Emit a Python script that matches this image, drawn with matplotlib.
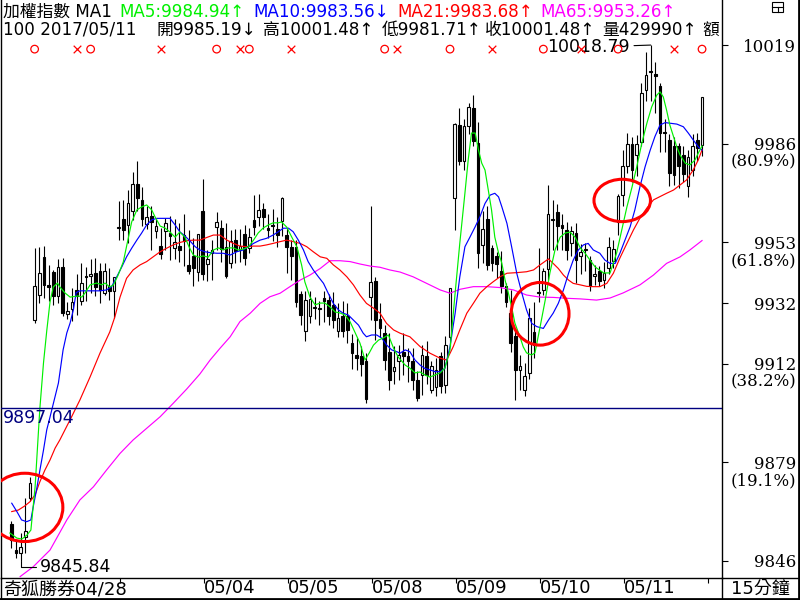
import matplotlib.pyplot as plt
from matplotlib.patches import Ellipse, Rectangle
from matplotlib.lines import Line2D

plt.rcParams["font.family"] = ["DejaVu Sans", "Noto Sans CJK TC"]

# 15-minute bars, 04/28 (last bars) .. 05/11
opens = [9858.4, 9849.6, 9848.6, 9854.0, 9867.0, 9926.5, 9934.9, 9947.6, 9938.5, 9942.7,
         9934.6, 9944.5, 9928.6, 9930.3, 9936.8, 9932.9, 9941.3, 9941.5, 9942.4, 9942.9,
         9935.6, 9938.1, 9936.2, 9957.4, 9960.6, 9958.6, 9963.3, 9972.3, 9967.0, 9958.8,
         9961.4, 9956.3, 9951.3, 9956.3, 9955.8, 9950.8, 9951.3, 9955.2, 9945.0, 9948.0,
         9942.6, 9963.0, 9945.5, 9949.0, 9957.8, 9957.5, 9951.1, 9945.7, 9953.5, 9950.0,
         9955.5, 9950.8, 9960.0, 9961.2, 9964.0, 9957.5, 9958.3, 9957.2, 9959.7, 9955.2,
         9951.0, 9951.0, 9935.5, 9922.8, 9927.8, 9930.6, 9930.4, 9934.0, 9933.4, 9931.7,
         9922.8, 9928.0, 9927.8, 9918.8, 9915.0, 9914.4, 9913.0, 9934.3, 9939.8, 9927.0,
         9922.3, 9916.0, 9909.4, 9912.8, 9915.9, 9914.4, 9912.8, 9906.4, 9908.3, 9914.5,
         9903.2, 9904.0, 9914.4, 9904.9, 9921.0, 9967.5, 9992.0, 9980.0, 9991.8, 9997.7,
         9986.0, 9951.9, 9960.5, 9950.7, 9948.0, 9943.2, 9937.9, 9929.0, 9921.1, 9909.7,
         9903.3, 9908.8, 9922.5, 9935.9, 9936.7, 9943.7, 9960.4, 9962.7, 9958.6, 9956.8,
         9952.3, 9955.7, 9948.2, 9950.0, 9946.8, 9941.5, 9943.0, 9940.0, 9944.0, 9946.3,
         9959.4, 9968.6, 9978.1, 9985.7, 9982.0, 9986.4, 10003.8, 10010.0, 10009.0, 10005.0,
         9989.5, 9987.0, 9984.8, 9984.8, 9982.0, 9971.4, 9977.0, 9987.0, 9985.19]
highs = [9859.4, 9853.0, 9855.3, 9867.0, 9874.0, 9950.6, 9951.0, 9951.3, 9945.0, 9943.5,
         9947.0, 9947.5, 9932.8, 9937.5, 9942.2, 9945.8, 9944.5, 9947.2, 9947.4, 9945.8,
         9945.8, 9944.2, 9941.2, 9966.4, 9966.7, 9970.3, 9976.4, 9980.0, 9971.2, 9965.0,
         9964.7, 9960.6, 9957.6, 9960.8, 9961.4, 9960.6, 9959.0, 9962.0, 9956.8, 9954.0,
         9955.5, 9973.9, 9950.2, 9953.5, 9962.7, 9960.2, 9959.2, 9956.8, 9957.0, 9957.0,
         9958.6, 9957.5, 9968.6, 9968.9, 9965.9, 9962.0, 9964.0, 9961.0, 9967.9, 9957.5,
         9953.5, 9953.5, 9936.2, 9936.2, 9936.2, 9934.5, 9933.0, 9936.2, 9935.4, 9936.0,
         9932.3, 9933.0, 9932.3, 9922.0, 9920.5, 9917.8, 9915.6, 9964.9, 9941.0, 9932.3,
         9925.0, 9922.3, 9917.8, 9918.3, 9922.3, 9917.3, 9917.3, 9909.4, 9918.3, 9919.5,
         9912.8, 9914.0, 9916.0, 9921.3, 9937.5, 9992.5, 9997.7, 9994.0, 9999.3, 10002.2,
         9993.0, 9963.0, 9964.7, 9951.9, 9949.3, 9949.6, 9939.0, 9936.8, 9922.8, 9915.0,
         9912.2, 9930.6, 9932.8, 9950.7, 9944.0, 9972.0, 9967.0, 9965.6, 9962.2, 9959.6,
         9958.0, 9959.0, 9952.0, 9952.5, 9948.0, 9945.0, 9944.6, 9946.0, 9954.5, 9953.5,
         9969.0, 9983.7, 9989.4, 9988.0, 9988.6, 10006.0, 10016.3, 10018.79, 10013.0, 10006.0,
         9994.0, 9989.0, 9988.0, 9986.0, 9985.0, 9983.7, 9989.0, 9989.4, 10001.48]
lows = [9850.3, 9847.0, 9845.84, 9848.6, 9866.0, 9925.5, 9932.4, 9934.0, 9932.9, 9931.8,
        9932.4, 9928.0, 9927.0, 9926.2, 9928.4, 9931.8, 9932.9, 9935.8, 9934.6, 9932.4,
        9935.0, 9933.4, 9927.4, 9953.5, 9953.5, 9952.5, 9960.0, 9963.0, 9958.0, 9957.0,
        9950.2, 9954.0, 9947.0, 9950.2, 9946.8, 9947.0, 9946.0, 9944.8, 9942.0, 9938.0,
        9939.6, 9940.0, 9939.6, 9940.0, 9950.2, 9946.0, 9940.7, 9944.0, 9945.7, 9946.0,
        9945.0, 9949.0, 9955.2, 9958.0, 9957.0, 9954.0, 9953.0, 9951.0, 9954.7, 9942.4,
        9940.0, 9931.0, 9925.0, 9919.7, 9925.6, 9927.0, 9925.0, 9926.0, 9925.0, 9924.0,
        9921.0, 9921.0, 9919.0, 9910.2, 9910.0, 9908.0, 9898.8, 9926.7, 9920.0, 9921.0,
        9910.0, 9903.2, 9905.0, 9906.6, 9908.3, 9906.0, 9903.2, 9899.5, 9901.6, 9905.0,
        9902.0, 9901.0, 9902.0, 9902.0, 9918.0, 9956.8, 9978.7, 9977.0, 9989.0, 9985.0,
        9944.0, 9945.7, 9943.4, 9943.0, 9940.6, 9935.6, 9931.0, 9916.0, 9899.9, 9903.2,
        9901.0, 9907.0, 9914.0, 9932.8, 9935.0, 9940.0, 9950.0, 9950.0, 9950.0, 9946.8,
        9948.0, 9939.0, 9942.0, 9943.0, 9936.2, 9938.5, 9937.9, 9937.5, 9942.0, 9944.0,
        9955.0, 9964.7, 9976.0, 9973.0, 9975.0, 9985.0, 10000.0, 10000.0, 9996.0, 9983.0,
        9983.0, 9971.4, 9972.0, 9970.8, 9973.0, 9968.0, 9975.0, 9980.0, 9981.71]
closes = [9853.0, 9848.6, 9850.6, 9856.0, 9872.0, 9938.0, 9942.5, 9938.2, 9937.8, 9934.6,
          9944.5, 9929.0, 9929.8, 9932.7, 9934.6, 9939.1, 9941.0, 9942.1, 9937.7, 9936.8,
          9942.9, 9936.2, 9941.2, 9957.6, 9956.9, 9965.9, 9972.3, 9967.6, 9960.5, 9961.0,
          9959.4, 9958.3, 9948.9, 9959.2, 9954.9, 9952.7, 9950.2, 9953.0, 9943.0, 9944.0,
          9955.5, 9942.0, 9947.0, 9950.0, 9959.5, 9950.5, 9941.5, 9953.0, 9949.6, 9951.5,
          9947.4, 9954.3, 9957.8, 9963.6, 9961.2, 9956.7, 9958.2, 9955.2, 9967.5, 9951.1,
          9948.0, 9932.8, 9928.4, 9933.4, 9933.6, 9930.9, 9930.2, 9933.0, 9927.8, 9926.7,
          9927.3, 9923.1, 9923.3, 9915.5, 9914.0, 9912.0, 9900.0, 9939.4, 9926.7, 9924.0,
          9913.3, 9906.6, 9910.8, 9915.0, 9914.7, 9912.8, 9906.4, 9900.5, 9915.0, 9908.3,
          9911.3, 9910.0, 9904.6, 9918.3, 9937.3, 9992.2, 9979.8, 9991.8, 9998.0, 9986.5,
          9949.0, 9957.1, 9945.1, 9945.7, 9945.5, 9937.9, 9932.8, 9918.9, 9909.9, 9911.3,
          9908.0, 9927.3, 9918.4, 9935.7, 9943.2, 9962.2, 9960.2, 9958.0, 9957.5, 9950.2,
          9956.3, 9946.8, 9949.3, 9950.2, 9938.1, 9942.0, 9939.7, 9942.5, 9951.1, 9950.5,
          9968.3, 9978.1, 9985.7, 9977.0, 9985.7, 10002.8, 10008.9, 10009.6, 10008.5, 9989.4,
          9989.3, 9975.9, 9975.3, 9978.1, 9975.5, 9981.4, 9984.8, 9984.3, 10001.48]

# moving averages (bar position, value)
ma5_x = [-0.3, 1.2, 2.3, 3.4, 4.2, 5.1, 6.1, 6.9, 7.6, 8.3, 9, 9.9, 10.4, 11.5, 12.6, 14.4, 15.1, 15.8,
         16.9, 18.3, 19.4, 20.1, 21.1, 21.9, 22.9, 24, 25.1, 25.8, 26.9, 27.9, 29, 30.1, 30.8, 31.9,
         32.9, 34, 35.1, 36.1, 37.2, 38.1, 39, 40.1, 41.1, 42.2, 43.3, 44.4, 45.4, 46.5, 47.6, 48.6,
         49.7, 50.8, 51.9, 52.9, 54, 55.1, 56.1, 57.2, 57.9, 59, 60.1, 61.2, 62.2, 62.9, 64, 65.1,
         66.2, 67.2, 68.3, 69.4, 70.4, 71.5, 72.6, 73.6, 74.7, 75.8, 76.7, 77.6, 78.7, 79.7, 80.8,
         81.9, 82.9, 84.4, 85.4, 86.5, 87.6, 88.6, 89.7, 90.8, 91.9, 92.9, 94, 95.1, 96.1, 97.2,
         97.9, 98.6, 99.4, 100.1, 100.8, 101.5, 102.2, 102.9, 103.6, 104.4, 105.1, 105.8, 106.5,
         107.2, 107.9, 109, 109.7, 110.4, 111.5, 112.2, 113.3, 114.4, 115.4, 116.5, 117.6, 118.7,
         119.7, 120.8, 121.9, 122.9, 124, 125.1, 126, 126.9, 128.3, 129.7, 130.8, 131.9, 133, 134,
         135.1, 136.2, 137.2, 138.3, 139, 139.7, 140.4, 141.1, 141.9, 142.6, 143.3, 144.4, 145.4,
         146.5, 147.2, 148]
ma5_y = [9855.2, 9853.5, 9853.2, 9854.6, 9856.2, 9870.6, 9896.5, 9912.2, 9923.0, 9932.7, 9937.7,
         9939.0, 9937.7, 9935.7, 9934.3, 9934.7, 9934.3, 9935.7, 9938.4, 9939.0, 9938.4, 9939.0,
         9937.7, 9938.4, 9941.7, 9946.1, 9954.4, 9959.5, 9963.5, 9964.5, 9965.2, 9963.5, 9961.2,
         9958.1, 9957.5, 9956.1, 9954.4, 9956.1, 9954.4, 9951.1, 9948.4, 9947.7, 9948.1, 9947.7,
         9950.1, 9950.8, 9950.1, 9950.8, 9950.8, 9950.1, 9950.4, 9951.1, 9953.4, 9955.8, 9957.5,
         9958.5, 9959.2, 9959.2, 9959.5, 9957.8, 9954.4, 9951.1, 9945.1, 9939.4, 9934.3, 9931.7,
         9932.3, 9932.3, 9931.0, 9929.3, 9929.0, 9928.3, 9926.0, 9922.6, 9918.9, 9913.2, 9915.6,
         9918.2, 9919.9, 9920.6, 9921.6, 9917.2, 9914.2, 9911.5, 9910.5, 9908.9, 9909.2, 9908.2,
         9907.5, 9908.2, 9908.9, 9910.5, 9916.6, 9935.7, 9952.4, 9969.2, 9980.3, 9989.3, 9989.3,
         9983.6, 9979.2, 9976.9, 9970.2, 9963.5, 9954.4, 9949.1, 9945.7, 9940.0, 9935.7, 9931.0,
         9925.6, 9920.9, 9917.6, 9915.6, 9914.9, 9915.6, 9924.3, 9933.3, 9942.4, 9950.1, 9954.4,
         9955.8, 9956.1, 9954.4, 9950.8, 9949.1, 9946.7, 9944.4, 9943.4, 9942.4, 9942.4, 9949.1,
         9956.8, 9964.5, 9971.2, 9977.9, 9985.9, 9992.7, 9998.0, 10002.0, 10003.1, 10001.4, 9997.0,
         9992.0, 9988.0, 9984.6, 9981.9, 9979.2, 9978.6, 9980.3, 9982.6, 9984.94]

ma10_x = [0.1, 1.2, 2.2, 3.3, 4.2, 4.7, 5.4, 6.1, 6.9, 7.6, 8.3, 10.1, 11.1, 11.9, 12.6, 13.3, 13.9,
          14.7, 16.2, 17.6, 19.0, 20.4, 21.5, 22.6, 23.7, 24.7, 25.8, 26.9, 27.9, 29.0, 30.1, 31.2,
          32.6, 34.0, 35.1, 36.1, 37.2, 38.3, 39.4, 40.4, 41.5, 42.6, 44.0, 45.4, 46.9, 48.3, 49.7,
          50.8, 51.9, 53.3, 54.7, 56.1, 57.2, 58.3, 59.4, 60.4, 61.5, 62.6, 63.6, 64.7, 65.8, 66.9,
          67.9, 69.0, 70.1, 71.1, 72.2, 73.3, 74.4, 75.4, 76.1, 77.2, 78.3, 79.4, 80.4, 81.5, 82.6,
          83.3, 84.4, 85.4, 86.5, 87.6, 88.6, 89.7, 90.8, 91.9, 92.9, 94.0, 95.1, 96.1, 97.2, 98.3,
          99.4, 100.4, 101.5, 102.6, 103.6, 104.4, 105.1, 106.2, 107.2, 108.3, 109.4, 110.4, 111.5,
          112.6, 114.0, 115.1, 116.1, 117.2, 118.3, 119.4, 120.4, 121.5, 122.6, 123.6, 124.7, 126.1,
          127.2, 128.3, 129.4, 130.4, 131.5, 132.6, 133.6, 134.7, 135.8, 136.9, 137.9, 139.0, 140.1,
          141.1, 142.6, 144.0, 145.1, 146.1, 147.2, 148]
ma10_y = [9865.2, 9862.4, 9859.6, 9859.0, 9859.6, 9864.0, 9869.6, 9876.0, 9883.0, 9889.8, 9894.1,
          9905.5, 9916.6, 9922.3, 9925.6, 9930.0, 9935.8, 9936.4, 9936.4, 9936.4, 9936.4, 9936.7,
          9937.8, 9941.1, 9944.5, 9947.8, 9950.7, 9953.4, 9955.7, 9958.5, 9960.2, 9960.7, 9960.7,
          9960.7, 9958.5, 9956.2, 9954.8, 9953.1, 9951.2, 9950.1, 9949.5, 9949.2, 9949.0, 9949.0,
          9948.4, 9949.5, 9950.1, 9951.2, 9952.3, 9953.4, 9954.0, 9955.1, 9956.2, 9957.4, 9957.4,
          9956.2, 9953.4, 9950.1, 9946.2, 9943.4, 9941.1, 9938.9, 9935.6, 9932.2, 9930.0, 9928.9,
          9928.3, 9926.6, 9924.9, 9922.2, 9921.0, 9921.6, 9921.6, 9920.5, 9918.3, 9916.6, 9916.0,
          9915.5, 9916.6, 9916.0, 9913.2, 9911.5, 9910.4, 9909.9, 9909.3, 9909.3, 9910.4, 9917.7,
          9928.9, 9941.1, 9951.2, 9954.5, 9957.9, 9961.2, 9965.7, 9968.5, 9969.1, 9967.9, 9964.6,
          9959.0, 9951.2, 9942.3, 9935.6, 9930.0, 9925.5, 9924.4, 9923.8, 9926.6, 9928.9, 9932.2,
          9936.7, 9942.3, 9946.7, 9950.1, 9951.8, 9952.3, 9950.1, 9949.0, 9946.7, 9945.6, 9945.6,
          9949.0, 9953.4, 9957.9, 9963.5, 9971.3, 9978.0, 9983.6, 9988.1, 9992.0, 9992.8, 9992.6,
          9992.3, 9991.4, 9989.2, 9987.0, 9984.7, 9983.56]

ma21_x = [0.1, 1.5, 2.9, 4.0, 5.1, 6.1, 7.2, 8.3, 9.4, 10.4, 12.9, 14.7, 16.9, 19.0, 21.1, 22.2, 23.3,
          24.7, 26.1, 27.6, 29.0, 30.4, 31.9, 33.3, 34.7, 36.1, 37.6, 39.0, 40.4, 41.9, 43.3, 44.7,
          46.2, 47.6, 49.0, 50.4, 51.9, 53.3, 54.7, 56.1, 57.6, 59.0, 60.4, 61.9, 63.3, 64.7, 66.2,
          67.6, 69.0, 70.4, 71.9, 73.3, 74.7, 76.1, 77.6, 79.0, 80.4, 81.9, 83.3, 85.4, 87.6, 89.7,
          91.9, 93.3, 94.7, 96.1, 97.6, 99.0, 100.4, 101.9, 103.3, 104.7, 106.2, 108.3, 110.4, 111.9,
          113.3, 115.1, 116.1, 117.2, 118.3, 119.4, 120.4, 121.9, 123.3, 124.7, 126.1, 127.6, 129.0,
          130.4, 131.9, 133.3, 134.7, 136.2, 137.6, 139.0, 140.4, 141.9, 143.3, 144.7, 146.1, 147.2,
          148]
ma21_y = [9862.4, 9862.9, 9864.3, 9865.7, 9868.0, 9872.3, 9876.3, 9879.7, 9883.7, 9886.4, 9894.1,
          9899.8, 9907.6, 9915.5, 9922.6, 9927.7, 9934.3, 9940.6, 9943.4, 9945.1, 9946.2, 9947.8,
          9949.5, 9950.7, 9951.8, 9952.6, 9953.2, 9953.4, 9953.4, 9954.3, 9955.1, 9955.1, 9953.4,
          9952.3, 9951.4, 9951.2, 9951.4, 9951.4, 9951.8, 9952.3, 9952.9, 9953.4, 9952.9, 9952.3,
          9951.2, 9949.5, 9947.8, 9947.3, 9945.1, 9943.4, 9941.1, 9938.4, 9935.0, 9932.2, 9930.6,
          9928.9, 9925.5, 9923.3, 9922.2, 9921.0, 9917.7, 9915.5, 9913.8, 9913.2, 9917.7, 9923.3,
          9928.9, 9932.2, 9935.6, 9937.8, 9939.5, 9941.1, 9942.3, 9942.5, 9942.8, 9943.4, 9945.1,
          9947.1, 9945.6, 9943.9, 9941.7, 9940.0, 9938.9, 9938.4, 9937.9, 9937.8, 9937.8, 9938.9,
          9942.3, 9947.4, 9952.3, 9956.8, 9960.8, 9964.2, 9966.9, 9968.0, 9969.1, 9970.2, 9971.9,
          9973.6, 9976.9, 9980.3, 9983.68]

ma65_x = [1.9, 4.7, 8.3, 11.9, 14.7, 17.6, 20.4, 23.3, 26.1, 29.0, 31.9, 34.7, 37.6, 40.4, 42.6,
          44.7, 46.9, 49.0, 51.2, 53.3, 55.4, 57.6, 59.7, 61.9, 64.0, 66.2, 68.3, 70.4, 72.6, 74.7,
          76.9, 79.0, 81.1, 83.3, 86.1, 89.0, 91.9, 94.0, 96.1, 99.0, 101.9, 104.7, 107.6, 110.4,
          113.3, 116.1, 119.0, 121.9, 125.4, 128.3, 131.1, 134.7, 137.6, 140.4, 143.3, 145.4, 148]
ma65_y = [9840.6, 9843.9, 9849.5, 9859.6, 9866.3, 9870.7, 9876.3, 9881.9, 9886.4, 9890.3, 9894.2,
          9898.7, 9903.5, 9908.5, 9913.2, 9917.1, 9921.0, 9926.1, 9928.9, 9932.2, 9934.4, 9935.6,
          9937.8, 9940.0, 9941.7, 9943.9, 9946.5, 9946.5, 9946.2, 9945.4, 9944.7, 9944.3, 9943.4,
          9942.7, 9941.1, 9938.9, 9936.7, 9935.6, 9936.9, 9937.8, 9937.8, 9937.5, 9936.7, 9935.0,
          9934.3, 9934.2, 9933.9, 9933.7, 9933.3, 9934.0, 9935.7, 9938.4, 9941.7, 9945.6, 9947.8,
          9950.1, 9953.26]

# signals (bar index, kind)
sig_o = [5, 17, 44, 51, 80, 94, 114, 130, 148]
sig_x = [14, 32, 49, 60, 82.6, 103, 122, 142]

# highlighted zones: (bar, price, width in bars, height in points)
circles = [(2.9, 9863.8, 16.3, 22.9), (113.3, 9928.7, 12.4, 21.0), (130.9, 9966.7, 12.1, 14.2)]

ref_level = 9897.04
hi_bar, lo_bar = 137, 2

price_ticks = [10018.79, 9985.76, 9952.72, 9932.32, 9911.91, 9878.87, 9845.84]
price_labels = ["10019", "9986", "9953", "9932", "9912", "9879", "9846"]
pct_labels = ["", "(80.9%)", "(61.8%)", "", "(38.2%)", "(19.1%)", ""]

day_start = [23, 41, 59, 77, 95, 113, 131, 149]
day_labels = ["", "05/04", "05/05", "05/08", "05/09", "05/10", "05/11", ""]
first_date = "04/28"

fig = plt.figure(figsize=(8, 6), dpi=100)
ax = fig.add_axes([0.5 / 800, 22 / 600, 721 / 800, 578 / 600])

idx = list(range(len(closes)))
ax.vlines(idx, lows, highs, color="black", lw=0.8, zorder=2)
bottoms = [min(o, c) for o, c in zip(opens, closes)]
heights = [max(abs(c - o), 0.35) for o, c in zip(opens, closes)]
fills = ["white" if c >= o else "black" for o, c in zip(opens, closes)]
ax.bar(idx, heights, bottom=bottoms, width=0.62, color=fills, edgecolor="black",
       linewidth=0.8, zorder=2)

ax.plot(ma65_x, ma65_y, color="#ff00ff", lw=0.85, zorder=3)
ax.plot(ma21_x, ma21_y, color="#ff0000", lw=0.85, zorder=3)
ax.plot(ma10_x, ma10_y, color="#0000ff", lw=0.85, zorder=3)
ax.plot(ma5_x, ma5_y, color="#00f000", lw=0.85, zorder=3)

ax.axhline(ref_level, color="#000080", lw=1.0, zorder=3)
ax.annotate(f"{ref_level:.2f}", xy=(0, ref_level), xycoords=("axes fraction", "data"),
            xytext=(1.5, -7.3), textcoords="offset points", ha="left", va="center",
            color="#000080", fontsize=12.5)

for cx, cy, w, h in circles:
    ax.add_patch(Ellipse((cx, cy), w, h, fill=False, edgecolor="#ff0000", lw=2.2, zorder=4))

trans = ax.get_xaxis_transform()
ax.scatter(sig_o, [0.915] * len(sig_o), transform=trans, marker="o", s=30,
           facecolors="none", edgecolors="#ff0000", linewidths=0.9, zorder=5, clip_on=False)
ax.scatter(sig_x, [0.915] * len(sig_x), transform=trans, marker="x", s=30,
           color="#ff0000", linewidths=0.9, zorder=5, clip_on=False)

ax.annotate(f"{highs[hi_bar]:.2f}", xy=(hi_bar, highs[hi_bar]), xytext=(-15, -1.5),
            textcoords="offset points", ha="right", va="center", fontsize=12.5,
            arrowprops=dict(arrowstyle="-", lw=0.8, color="black", shrinkA=1, shrinkB=0))
ax.annotate(f"{lows[lo_bar]:.2f}", xy=(lo_bar, lows[lo_bar]), xytext=(14, -4.3),
            textcoords="offset points", ha="left", va="center", fontsize=12.5,
            arrowprops=dict(arrowstyle="-", lw=0.8, color="black", shrinkA=1, shrinkB=0,
                            connectionstyle="angle,angleA=0,angleB=90,rad=0"))

ax.set_xlim(-2.31, 152.17)
ax.set_ylim(9840.13, 10033.9)

ax.yaxis.tick_right()
ax.set_yticks(price_ticks)
ax.set_yticklabels(price_labels)
ax.tick_params(axis="y", direction="out", length=4, width=0.8, pad=49.6, labelsize=12,
               labelfontfamily="DejaVu Serif")
for lab in ax.get_yticklabels():
    lab.set_ha("right")
for v, p in zip(price_ticks, pct_labels):
    if p:
        ax.annotate(p, xy=(1, v), xycoords=("axes fraction", "data"), xytext=(53.6, -13.3),
                    textcoords="offset points", ha="right", va="center", fontsize=12,
                    family="DejaVu Serif", annotation_clip=False)

ax.set_xticks([d + 0.3 for d in day_start])
ax.set_xticklabels(day_labels)
ax.tick_params(axis="x", direction="out", length=3.6, width=0.8, pad=-3.4, labelsize=13)
for lab in ax.get_xticklabels():
    lab.set_ha("left")

ax.spines["top"].set_visible(False)
for s in ["left", "right", "bottom"]:
    ax.spines[s].set_linewidth(1.0)


def fx(px):
    return px / 800


def fy(py):
    return 1 - py / 600


# frame of the right panel and bottom strip
for (x0, y0, x1, y1, w) in [(721.5, 578, 798, 578, 1.0), (721.5, 578, 721.5, 599, 1.0),
                            (0.5, 578, 0.5, 599, 1.0), (0, 598.5, 800, 598.5, 2.0),
                            (798.5, 0, 798.5, 600, 2.0)]:
    fig.add_artist(Line2D([fx(x0), fx(x1)], [fy(y0), fy(y1)], color="black", lw=w))

fig.add_artist(Rectangle((fx(772), fy(12)), 11 / 800, 10 / 600, fill=False, edgecolor="black",
                         lw=0.8, transform=fig.transFigure))
fig.add_artist(Line2D([fx(772), fx(783)], [fy(7), fy(7)], color="black", lw=0.8))
fig.add_artist(Line2D([fx(777.5), fx(777.5)], [fy(7), fy(12)], color="black", lw=0.8))

# header lines
row1 = [(3, "加權指數 MA1", "black"), (119, "MA5:9984.94↑", "#00f000"),
        (253, "MA10:9983.56↓", "#0000ff"), (397, "MA21:9983.68↑", "#ff0000"),
        (540, "MA65:9953.26↑", "#ff00ff")]
row2 = [(3, "100 2017/05/11", "black"), (157, "開9985.19↓", "black"),
        (263, "高10001.48↑", "black"), (382, "低9981.71↑", "black"),
        (485, "收10001.48↑", "black"), (602, "量429990↑", "black"), (702, "額", "black")]
for x0, s, c in row1:
    fig.text(fx(x0), fy(12), s, color=c, fontsize=12.1, ha="left", va="center")
for x0, s, c in row2:
    fig.text(fx(x0), fy(29.5), s, color=c, fontsize=12.1, ha="left", va="center")

fig.text(fx(3), fy(589), "奇狐勝券" + first_date, fontsize=13, ha="left", va="center")
fig.text(fx(760), fy(589), "15分鐘", fontsize=13, ha="center", va="center")

plt.savefig("out.png", dpi=100)
